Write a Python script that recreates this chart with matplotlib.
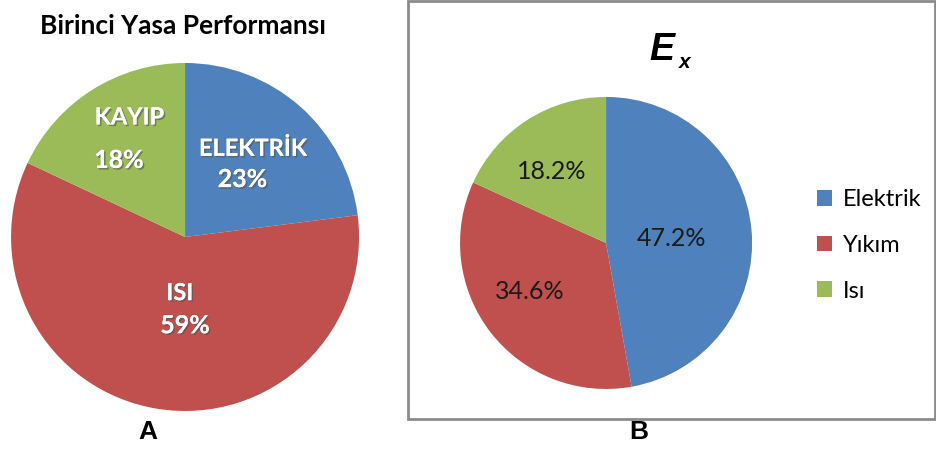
import matplotlib.pyplot as plt
import matplotlib.patheffects as pe
from matplotlib.patches import Rectangle

# chart A: first law performance
a_title = "Birinci Yasa Performansı"
a_labels = ["ELEKTRİK", "ISI", "KAYIP"]
a_values = [23, 59, 18]

# chart B: exergy
b_title_main = "E"
b_title_sub = "x"
b_labels = ["Elektrik", "Yıkım", "Isı"]
b_values = [47.2, 34.6, 18.2]

colors = ["#4F81BD", "#C0504D", "#9BBB59"]

fig = plt.figure(figsize=(9.36, 4.5), dpi=100)

# --- A ---
ax1 = fig.add_axes([0.0118, 0.0867, 0.3718, 0.7733])
wedges, _ = ax1.pie(a_values, colors=colors, startangle=90, counterclock=False,
                    radius=1)
ax1.set_xlim(-1, 1)
ax1.set_ylim(-1, 1)
ax1.set_aspect("equal")

shadow = [pe.withSimplePatchShadow(offset=(1.2, -1.2), shadow_rgbFace="#555555", alpha=0.6),
          pe.Normal()]
# label positions (fraction of radius) for ELEKTRİK, ISI, KAYIP
a_pos = [((0.39, 0.51), (0.33, 0.33)),
         ((-0.03, -0.32), (0.0, -0.51)),
         ((-0.32, 0.69), (-0.38, 0.44))]
for lab, val, (p1, p2) in zip(a_labels, a_values, a_pos):
    ax1.text(p1[0], p1[1], lab, ha="center", va="center", color="white",
             fontsize=17, fontweight="bold", family="Lato", path_effects=shadow)
    ax1.text(p2[0], p2[1], f"{val}%", ha="center", va="center", color="white",
             fontsize=18, fontweight="bold", family="Lato", path_effects=shadow)

fig.text(0.195, 0.943, a_title, ha="center", va="center", fontsize=19,
         fontweight="bold", family="Lato")
fig.text(0.158, 0.04, "A", ha="center", va="center", fontsize=19,
         fontweight="bold", family="Liberation Sans")

# --- B ---
fig.patches.append(Rectangle((408 / 936, 1 - 419 / 450), 527 / 936, 418 / 450,
                             transform=fig.transFigure, fill=False,
                             edgecolor="#8c8c8c", linewidth=2))

ax2 = fig.add_axes([0.4915, 0.1356, 0.312, 0.649])
wedges2, _ = ax2.pie(b_values, colors=colors, startangle=90, counterclock=False,
                     radius=1)
ax2.set_xlim(-1, 1)
ax2.set_ylim(-1, 1)
ax2.set_aspect("equal")

b_pos = [(0.45, 0.03), (-0.52, -0.33), (-0.37, 0.49)]
for val, p in zip(b_values, b_pos):
    ax2.text(p[0], p[1], f"{val}%", ha="center", va="center", color="#1a1a1a",
             fontsize=18, family="Lato")

fig.text(0.707, 0.888, b_title_main, ha="center", va="center", fontsize=27,
         fontweight="bold", fontstyle="italic", family="Liberation Sans")
fig.text(0.7315, 0.862, b_title_sub, ha="center", va="center", fontsize=15,
         fontweight="bold", fontstyle="italic", family="Liberation Sans")
fig.text(0.682, 0.04, "B", ha="center", va="center", fontsize=19,
         fontweight="bold", family="Liberation Sans")

fig.legend(wedges2, b_labels, loc="center left", bbox_to_anchor=(0.872 - 11 / 936, 0.455),
           frameon=False, handlelength=0.65, handleheight=0.65,
           handletextpad=0.45, labelspacing=1.05, borderpad=0,
           prop={"family": "Lato", "size": 17})

fig.savefig("out.png", dpi=100)
